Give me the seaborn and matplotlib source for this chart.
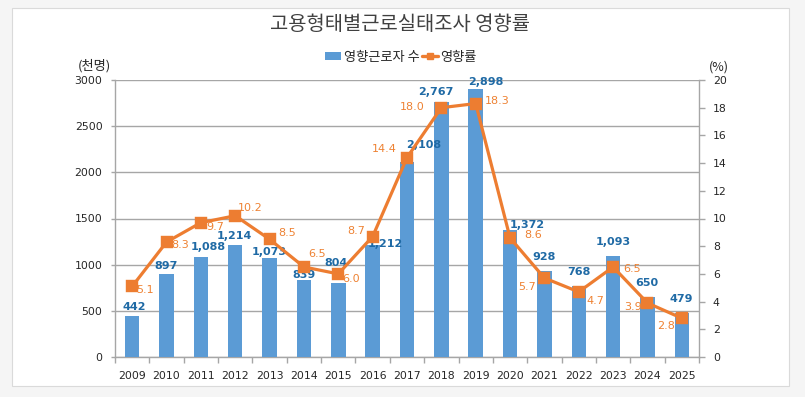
import matplotlib
matplotlib.use("Agg")
import matplotlib.pyplot as plt
from matplotlib.patches import Rectangle, Patch
from matplotlib.lines import Line2D
import seaborn as sns
import pandas as pd
import numpy as np

# ---- data ----
years = [str(y) for y in range(2009, 2026)]
workers = [442, 897, 1088, 1214, 1073, 839, 804, 1212, 2108, 2767, 2898,
           1372, 928, 768, 1093, 650, 479]
rates = [5.1, 8.3, 9.7, 10.2, 8.5, 6.5, 6.0, 8.7, 14.4, 18.0, 18.3,
         8.6, 5.7, 4.7, 6.5, 3.9, 2.8]
title = "고용형태별근로실태조사 영향률"
bar_name = "영향근로자 수"
line_name = "영향률"
left_unit = "(천명)"
right_unit = "(%)"

# label placement styles (pixel offsets)
bar_lab_off = [(2, 9), (0, 8), (7, 10), (-1, 9), (0, 6), (0, 5), (-2, 20), (13, 1),
               (17, 17), (-6, 10), (10, 7), (17, 5), (0, 14), (0, 14), (0, 14),
               (-1, 14), (-1, 14)]
rate_lab_off = [(4, -4, 'left'), (5, -3, 'left'), (5, -4, 'left'), (3, 8, 'left'),
                (9, 6, 'left'), (4, 13, 'left'), (4, -5, 'left'), (-8, 6, 'right'),
                (-10, 9, 'right'), (-17, 1, 'right'), (9, 3, 'left'), (14, 3, 'left'),
                (-8, -9, 'right'), (8, -9, 'left'), (10, -2, 'left'), (-6, -4, 'right'),
                (-7, -8, 'right')]

df = pd.DataFrame({"year": years, "workers": workers, "rate": rates})

BAR = "#5B9BD5"
LINE = "#ED7D31"
BARLAB = "#1F6AA5"
RATELAB = "#EE8233"
GRID = "#A6A6A6"
TXT = "#262626"

sns.set_theme(style="white")
plt.rcParams['font.family'] = ['DejaVu Sans', 'Noto Sans CJK KR']

W, H = 805, 397
fig = plt.figure(figsize=(W / 100, H / 100), dpi=100)
fig.patch.set_facecolor("#F5F5F5")
fig.patches.append(Rectangle((12 / W, 1 - 386 / H), (789 - 12) / W, (386 - 8) / H,
                             transform=fig.transFigure, facecolor="white",
                             edgecolor="#DADADA", linewidth=0.8, zorder=-5))

ax = fig.add_axes([115 / W, 1 - 357 / H, (699 - 115) / W, (357 - 80) / H])
ax.set_facecolor("none")
sns.barplot(data=df, x="year", y="workers", ax=ax, color=BAR, width=0.42,
            saturation=1, linewidth=0, zorder=3)
ax.set_ylim(0, 3000)
ax.set_yticks(np.arange(0, 3001, 500))
ax.yaxis.grid(True, color=GRID, linewidth=1.0, zorder=0)
ax.set_axisbelow(True)
ax.set_xlabel("")
ax.set_ylabel("")
for s in ["top", "right"]:
    ax.spines[s].set_visible(False)
for s in ["left", "bottom"]:
    ax.spines[s].set_color(GRID)
    ax.spines[s].set_linewidth(1.0)

ax2 = ax.twinx()
ax2.set_facecolor("none")
sns.pointplot(data=df, x="year", y="rate", ax=ax2, color=LINE, marker="s",
              markersize=6.5, linewidth=2.3, errorbar=None)
ax2.set_ylim(0, 20)
ax2.set_yticks(np.arange(0, 21, 2))
ax2.set_ylabel("")
ax2.set_xlabel("")
ax2.grid(False)
for s in ["top", "left", "bottom"]:
    ax2.spines[s].set_visible(False)
ax2.spines["right"].set_color(GRID)
ax2.spines["right"].set_linewidth(1.0)

ax.set_xlim(-0.5, len(years) - 0.5)
ax2.set_xlim(-0.5, len(years) - 0.5)
ax.set_xticks(range(len(years)))
ax.set_xticklabels(years)
ax.set_xticks(np.arange(-0.5, len(years), 1.0), minor=True)
ax.tick_params(axis="x", which="major", length=0, pad=10, labelsize=7.8, labelcolor=TXT)
ax.tick_params(axis="x", which="minor", length=4, color=GRID, width=1, direction="out",
               bottom=True)
ax.tick_params(axis="y", length=3, color=GRID, width=1, pad=6, labelsize=7.8,
               labelcolor=TXT, left=True)
ax2.tick_params(axis="y", length=4, color=GRID, width=1, pad=6, labelsize=7.8,
                labelcolor=TXT, right=True)

px = 0.72
for i, (v, (dx, dy)) in enumerate(zip(workers, bar_lab_off)):
    ax.annotate(f"{v:,}", (i, v), xytext=(dx * px, dy * px), textcoords="offset points",
                ha="center", va="center", fontsize=8, fontweight="semibold",
                color=BARLAB, zorder=5)
for i, (r, (dx, dy, ha)) in enumerate(zip(rates, rate_lab_off)):
    ax2.annotate(f"{r:.1f}", (i, r), xytext=(dx * px, dy * px), textcoords="offset points",
                 ha=ha, va="center", fontsize=8, color=RATELAB, zorder=6)

fig.text(400 / W, 1 - 25 / H, title, ha="center", va="center", fontsize=14.3,
         color="#404040", family=['Noto Sans CJK KR', 'DejaVu Sans'])
fig.text(94 / W, 1 - 66 / H, left_unit, ha="center", va="center", fontsize=9.5,
         color=TXT, family=['Noto Sans CJK KR', 'DejaVu Sans'])
fig.text(719 / W, 1 - 67 / H, right_unit, ha="center", va="center", fontsize=9,
         color=TXT, family=['Noto Sans CJK KR', 'DejaVu Sans'])

handles = [Patch(facecolor=BAR, edgecolor="none"),
           Line2D([0], [0], color=LINE, lw=2.4, marker="s", markersize=5)]
fig.legend(handles, [bar_name, line_name], loc="center", bbox_to_anchor=(401 / W, 1 - 57 / H),
           ncol=2, frameon=False, handlelength=1.2, handleheight=0.5, handletextpad=0.2,
           columnspacing=0.2,
           prop={'family': ['Noto Sans CJK KR', 'DejaVu Sans'], 'size': 9.5})

fig.savefig("out.png", dpi=100, facecolor=fig.get_facecolor())
